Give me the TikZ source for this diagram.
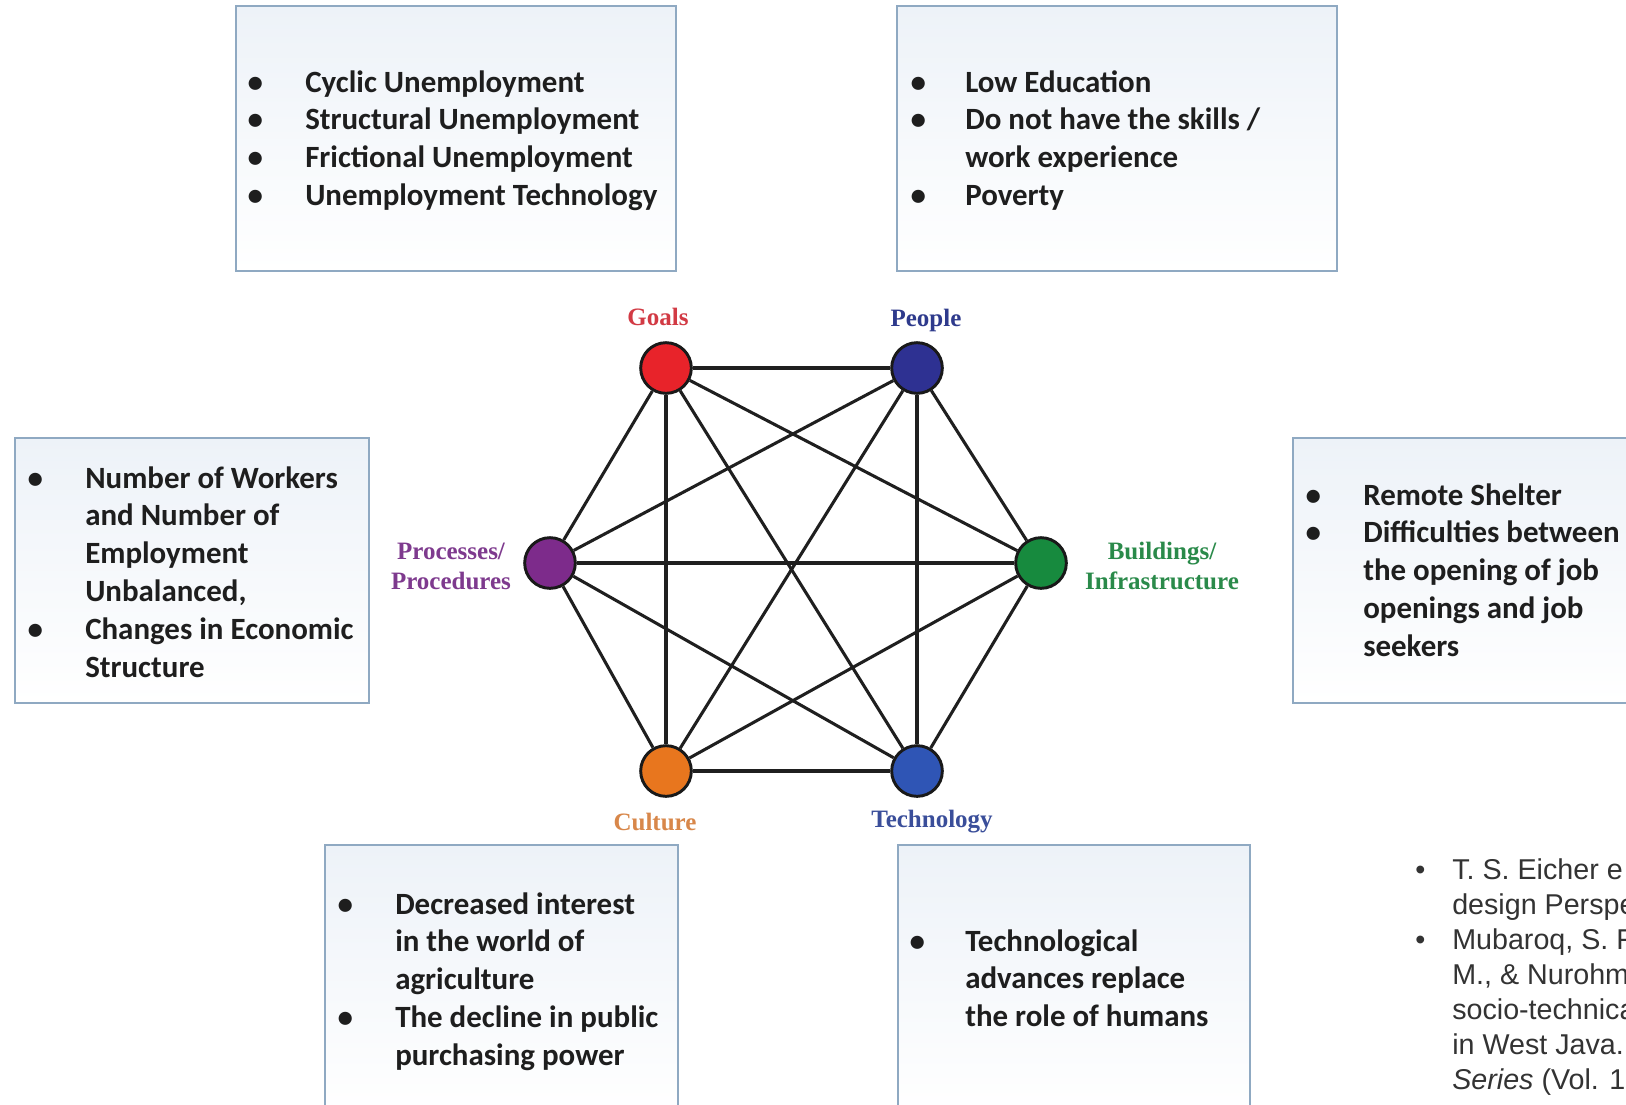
\documentclass[tikz,border=0pt]{standalone}
\usepackage{fontspec}
\setmainfont{Carlito}
\newfontfamily\lblfont{Liberation Serif}
\newfontfamily\reffont{Liberation Sans}
\definecolor{boxborder}{HTML}{8FA9C2}
\definecolor{boxtop}{HTML}{EDF2F8}
\definecolor{textdark}{HTML}{1E1E1E}
\definecolor{cGoals}{HTML}{E8232A}
\definecolor{lGoals}{HTML}{D23A44}
\definecolor{cPeople}{HTML}{2E3192}
\definecolor{lPeople}{HTML}{2E3A8C}
\definecolor{cProc}{HTML}{7D2B8B}
\definecolor{lProc}{HTML}{7E3A8E}
\definecolor{cBuild}{HTML}{178A3E}
\definecolor{lBuild}{HTML}{2A8A4A}
\definecolor{cCult}{HTML}{E8761E}
\definecolor{lCult}{HTML}{D8874A}
\definecolor{cTech}{HTML}{2F55B5}
\definecolor{lTech}{HTML}{3A4E9A}
\definecolor{reftext}{HTML}{333333}
\begin{document}
\begin{tikzpicture}[x=0.75pt,y=-0.75pt,
  box/.style={draw=boxborder, line width=1.5pt, top color=boxtop, bottom color=white},
  boxtext/.style={anchor=base west, inner sep=0pt, text=textdark,
    font=\fontsize{23.2}{28.4}\selectfont\bfseries},
  vert/.style={circle, draw=black!90, line width=2.2pt, minimum size=38pt, inner sep=0pt},
  link/.style={line width=2.3pt, draw=black!88},
  lbl/.style={font=\lblfont\bfseries\fontsize{18.75}{22.5}\selectfont, align=center, inner sep=0pt},
  reftxt/.style={anchor=base west, inner sep=0pt, text=reftext,
    font=\reffont\fontsize{21.5}{26.25}\selectfont}]
\useasboundingbox (0,0) rectangle (1626,1104);
\clip (0,0) rectangle (1626,1104);
\fill[white] (0,0) rectangle (1626,1104);

% boxes
\path[box] (236,6) rectangle (676,271);
\path[box] (897,6) rectangle (1337,271);
\path[box] (15,438) rectangle (369,703);
\path[box] (1293,438) rectangle (1640,703);
\path[box] (325,845) rectangle (678,1115);
\path[box] (898,845) rectangle (1250,1115);

% box texts
\node[boxtext] (tTL) at (255,92) {\begin{tabular}[t]{@{}p{37.5pt}@{}l@{}}
\makebox[0pt]{•} & Cyclic Unemployment\\
\makebox[0pt]{•} & Structural Unemployment\\
\makebox[0pt]{•} & Frictional Unemployment\\
\makebox[0pt]{•} & Unemployment Technology
\end{tabular}};

\node[boxtext] (tTR) at (918,92) {\begin{tabular}[t]{@{}p{35.25pt}@{}l@{}}
\makebox[0pt]{•} & Low Education\\
\makebox[0pt]{•} & Do not have the skills /\\
 & work experience\\
\makebox[0pt]{•} & Poverty
\end{tabular}};

\node[boxtext] (tL) at (35,488) {\begin{tabular}[t]{@{}p{37.5pt}@{}l@{}}
\makebox[0pt]{•} & Number of Workers\\
 & and Number of\\
 & Employment\\
 & Unbalanced,\\
\makebox[0pt]{•} & Changes in Economic\\
 & Structure
\end{tabular}};

\node[boxtext] (tR) at (1313,505) {\begin{tabular}[t]{@{}p{37.5pt}@{}l@{}}
\makebox[0pt]{•} & Remote Shelter\\
\makebox[0pt]{•} & Difficulties between\\
 & the opening of job\\
 & openings and job\\
 & seekers
\end{tabular}};

\node[boxtext] (tBL) at (345,914) {\begin{tabular}[t]{@{}p{37.5pt}@{}l@{}}
\makebox[0pt]{•} & Decreased interest\\
 & in the world of\\
 & agriculture\\
\makebox[0pt]{•} & The decline in public\\
 & purchasing power
\end{tabular}};

\node[boxtext] (tBR) at (917,951) {\begin{tabular}[t]{@{}p{36pt}@{}l@{}}
\makebox[0pt]{•} & Technological\\
 & advances replace\\
 & the role of humans
\end{tabular}};

% hexagon vertices
\node[vert, fill=cGoals] (g) at (666,368) {};
\node[vert, fill=cPeople] (p) at (917,368) {};
\node[vert, fill=cProc] (pr) at (550,563) {};
\node[vert, fill=cBuild] (b) at (1041,563) {};
\node[vert, fill=cCult] (c) at (666,771) {};
\node[vert, fill=cTech] (t) at (917,771) {};

% complete graph
\foreach \u/\v in {g/p,g/pr,g/b,g/c,g/t,p/pr,p/b,p/c,p/t,pr/b,pr/c,pr/t,b/c,b/t,c/t}
  \draw[link] (\u) -- (\v);

% labels
\node[lbl, text=lGoals] (lg) at (658,317) {Goals};
\node[lbl, text=lPeople] (lp) at (926,320) {People};
\node[lbl, text=lProc] (lpr) at (451,566) {Processes/\\Procedures};
\node[lbl, text=lBuild] (lb) at (1162,566) {Buildings/\\Infrastructure};
\node[lbl, text=lCult] (lc) at (655,822) {Culture};
\node[lbl, text=lTech] (lt) at (932,822) {Technology};

% reference text (cut at the right edge)
\node[reftxt] (refs) at (1420,879) {\begin{tabular}[t]{@{}p{24pt}@{}l@{}}
\makebox[0pt]{•} & T. S. Eicher e\\
 & design Perspe\\
\makebox[0pt]{•} & Mubaroq, S. F\\
 & M., \& Nurohm\\
 & socio-technica\\
 & in West Java.\\
 & \textit{Series} (Vol. 1
\end{tabular}};
\end{tikzpicture}
\end{document}
